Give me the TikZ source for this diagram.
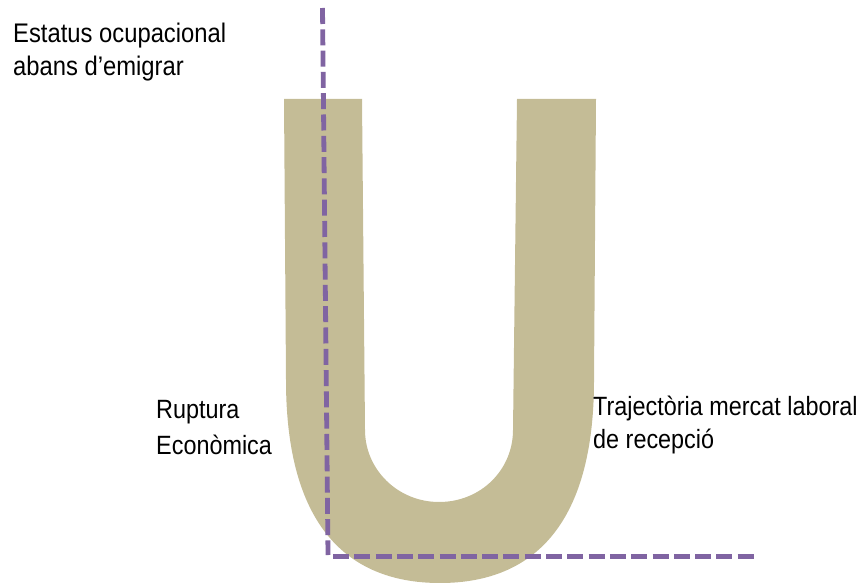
\documentclass[tikz,border=0pt]{standalone}
\usepackage{fontspec}
\setmainfont{Liberation Sans}
\definecolor{utan}{HTML}{C4BC96}
\definecolor{upurple}{HTML}{8064A2}
\tikzset{
  ushape/.style={fill=utan, draw=none},
  axisline/.style={draw=upurple, line width=4.8pt, dash pattern=on 16pt off 5.3pt},
  label/.style={inner sep=0pt, anchor=base west, yscale=1.13, transform shape}
}
\begin{document}
\begin{tikzpicture}[x=1pt,y=-1pt]
\useasboundingbox (0,0) rectangle (867,583);
% U shape
\path[ushape]
  (284,99) -- (286,380)
  .. controls (286,540) and (360,583) .. (440,583)
  .. controls (520,583) and (594,540) .. (594,380)
  -- (596,99) -- (517,99) -- (513,430)
  .. controls (513,469.8) and (480.9,502) .. (439,502)
  .. controls (398.1,502) and (365,469.8) .. (365,430)
  -- (362,99) -- cycle;
% axes
\coordinate (vtop) at (322.5,8);
\coordinate (vbot) at (328,555);
\coordinate (hleft) at (333,556.5);
\coordinate (hright) at (754,556.5);
\draw[axisline] (vtop) -- (vbot);
\draw[axisline] (hleft) -- (hright);
% labels
\node[label] (estatus) at (13,42.5) {\fontsize{23.8}{29.2}\selectfont\begin{tabular}[t]{@{}l@{}}Estatus ocupacional\\abans d’emigrar\end{tabular}};
\node[label] (ruptura) at (156,418) {\fontsize{23.4}{31.9}\selectfont\begin{tabular}[t]{@{}l@{}}Ruptura\\Econòmica\end{tabular}};
\node[label] (traj) at (593,415) {\fontsize{23.4}{29.2}\selectfont\begin{tabular}[t]{@{}l@{}}Trajectòria mercat laboral\\de recepció\end{tabular}};
\end{tikzpicture}
\end{document}
